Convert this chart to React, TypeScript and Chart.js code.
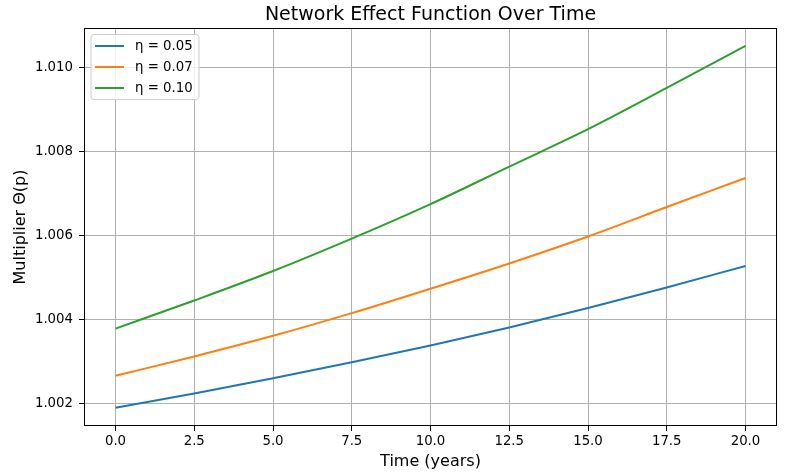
import React, { useEffect, useRef } from "react";
import { Chart, registerables } from "chart.js";

Chart.register(...registerables);

const years = [0, 2.5, 5, 7.5, 10, 12.5, 15, 17.5, 20];
const thetaEta005 = [1.00191, 1.00225, 1.00261, 1.00299, 1.00339, 1.00382, 1.00428, 1.00477, 1.00528];
const thetaEta007 = [1.00267, 1.00313, 1.00362, 1.00416, 1.00474, 1.00534, 1.00598, 1.00668, 1.00737];
const thetaEta010 = [1.00379, 1.00446, 1.00516, 1.00593, 1.00675, 1.00764, 1.00853, 1.00951, 1.01051];

const seriesLabels = ["η = 0.05", "η = 0.07", "η = 0.10"];
const seriesColors = ["#1f77b4", "#ff7f0e", "#2ca02c"];
const seriesValues = [thetaEta005, thetaEta007, thetaEta010];

const xTickValues = [0, 2.5, 5, 7.5, 10, 12.5, 15, 17.5, 20];
const yTickValues = [1.002, 1.004, 1.006, 1.008, 1.01];

const titleText = "Network Effect Function Over Time";
const xTitleText = "Time (years)";
const yTitleText = "Multiplier Θ(p)";

const FONT = "'DejaVu Sans', sans-serif";

const overlayPlugin = {
  id: "overlay",
  afterDraw(chart: any) {
    const { ctx, chartArea: a } = chart;
    ctx.save();
    // frame (all four spines)
    ctx.strokeStyle = "#000";
    ctx.lineWidth = 1;
    ctx.strokeRect(Math.round(a.left) + 0.5, Math.round(a.top) + 0.5, Math.round(a.right - a.left) - 1, Math.round(a.bottom - a.top) - 1);

    const cx = (a.left + a.right) / 2;
    ctx.fillStyle = "#000";
    ctx.textAlign = "center";
    ctx.textBaseline = "alphabetic";
    ctx.font = `19px ${FONT}`;
    ctx.fillText(titleText, cx, 20);

    ctx.font = `16px ${FONT}`;
    ctx.fillText(xTitleText, cx, 466);

    ctx.save();
    ctx.translate(25, (a.top + a.bottom) / 2);
    ctx.rotate(-Math.PI / 2);
    ctx.fillText(yTitleText, 0, 0);
    ctx.restore();

    // legend
    const bx = a.left + 7, by = a.top + 6.5, bw = 108, bh = 65;
    ctx.beginPath();
    const r = 3;
    ctx.moveTo(bx + r, by);
    ctx.lineTo(bx + bw - r, by);
    ctx.quadraticCurveTo(bx + bw, by, bx + bw, by + r);
    ctx.lineTo(bx + bw, by + bh - r);
    ctx.quadraticCurveTo(bx + bw, by + bh, bx + bw - r, by + bh);
    ctx.lineTo(bx + r, by + bh);
    ctx.quadraticCurveTo(bx, by + bh, bx, by + bh - r);
    ctx.lineTo(bx, by + r);
    ctx.quadraticCurveTo(bx, by, bx + r, by);
    ctx.closePath();
    ctx.fillStyle = "rgba(255,255,255,0.8)";
    ctx.fill();
    ctx.strokeStyle = "#cccccc";
    ctx.lineWidth = 1;
    ctx.stroke();

    ctx.font = `13.3px ${FONT}`;
    ctx.textAlign = "left";
    ctx.textBaseline = "middle";
    chart.data.datasets.forEach((ds: any, i: number) => {
      const y = a.top + 18 + i * 21;
      ctx.strokeStyle = ds.borderColor;
      ctx.lineWidth = 2;
      ctx.beginPath();
      ctx.moveTo(a.left + 11, y);
      ctx.lineTo(a.left + 40, y);
      ctx.stroke();
      ctx.fillStyle = "#000";
      ctx.fillText(ds.label, a.left + 51, y + 0.5);
    });
    ctx.restore();
  },
};

export default function App() {
  const canvasRef = useRef<HTMLCanvasElement | null>(null);

  useEffect(() => {
    document.body.style.margin = "0";
    const canvas = canvasRef.current;
    if (!canvas) return;
    const chart = new Chart(canvas, {
      type: "line",
      data: {
        datasets: seriesValues.map((vals, i) => ({
          label: seriesLabels[i],
          data: years.map((t, j) => ({ x: t, y: vals[j] })),
          borderColor: seriesColors[i],
          backgroundColor: seriesColors[i],
          borderWidth: 2,
          pointRadius: 0,
          cubicInterpolationMode: "monotone" as const,
          fill: false,
        })),
      },
      options: {
        animation: false,
        responsive: true,
        maintainAspectRatio: false,
        layout: { padding: { top: 28, right: 21, left: 0, bottom: 0 } },
        plugins: {
          legend: { display: false },
          title: { display: false },
          tooltip: { enabled: false },
        },
        scales: {
          x: {
            type: "linear",
            min: -1,
            max: 21,
            afterBuildTicks: (scale: any) => {
              scale.ticks = xTickValues.map((v) => ({ value: v }));
            },
            afterFit: (scale: any) => {
              scale.height = 48;
            },
            ticks: {
              color: "#000",
              font: { family: FONT, size: 13.3 },
              padding: 3,
              maxRotation: 0,
              autoSkip: false,
              callback: (v: any) => Number(v).toFixed(1),
            },
            grid: { color: "#b0b0b0", lineWidth: 1, tickColor: "#000", tickLength: 5, drawTicks: true },
            border: { display: false },
          },
          y: {
            type: "linear",
            min: 1.001477,
            max: 1.010935,
            afterBuildTicks: (scale: any) => {
              scale.ticks = yTickValues.map((v) => ({ value: v }));
            },
            afterFit: (scale: any) => {
              scale.width = 84;
            },
            ticks: {
              color: "#000",
              font: { family: FONT, size: 13.3 },
              padding: 6,
              autoSkip: false,
              callback: (v: any) => Number(v).toFixed(3),
            },
            grid: { color: "#b0b0b0", lineWidth: 1, tickColor: "#000", tickLength: 5, drawTicks: true },
            border: { display: false },
          },
        },
      },
      plugins: [overlayPlugin],
    });
    return () => chart.destroy();
  }, []);

  return (
    <div style={{ width: 798, height: 474, position: "relative" }}>
      <canvas ref={canvasRef} />
    </div>
  );
}
